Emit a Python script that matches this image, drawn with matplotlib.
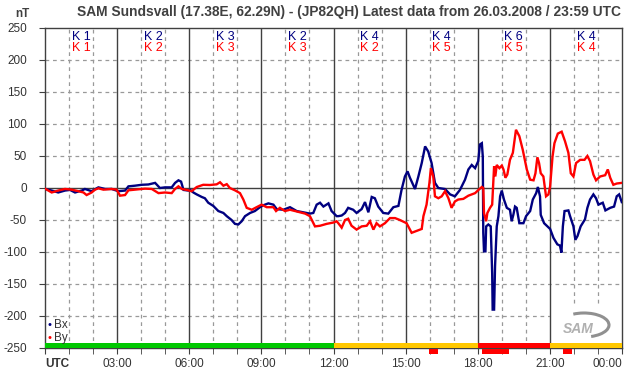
import matplotlib
matplotlib.use("Agg")
import matplotlib.pyplot as plt
from matplotlib.patches import Rectangle, Arc
import numpy as np

plt.rcParams['font.family'] = ['Liberation Sans', 'DejaVu Sans']

# ---- data (hours UTC, nT) ----
bx_hours = [0.00, 0.28, 0.55, 0.83, 1.04, 1.25, 1.53, 1.66, 1.94, 2.22, 2.50, 2.77, 3.05, 3.33, 3.47,
            3.74, 4.02, 4.30, 4.58, 4.78, 4.99, 5.27, 5.41, 5.55, 5.66, 5.76, 5.96, 6.03, 6.17, 6.31,
            6.52, 6.65, 6.79, 7.00, 7.21, 7.42, 7.56, 7.76, 7.90, 8.04, 8.18, 8.32, 8.53, 8.73, 8.94,
            9.08, 9.29, 9.50, 9.64, 9.91, 10.19, 10.47, 10.75, 11.02, 11.16, 11.30, 11.44, 11.58, 11.79,
            11.92, 12.13, 12.20, 12.34, 12.48, 12.61, 12.82, 12.96, 13.17, 13.31, 13.45, 13.59, 13.72,
            13.86, 14.07, 14.28, 14.49, 14.70, 14.83, 14.97, 15.08, 15.18, 15.39, 15.53, 15.67, 15.81,
            15.94, 16.08, 16.22, 16.36, 16.64, 16.85, 17.05, 17.26, 17.47, 17.61, 17.75, 17.89, 18.02,
            18.09, 18.17, 18.21, 18.23, 18.26, 18.32, 18.35, 18.44, 18.54, 18.60, 18.62, 18.68, 18.72,
            18.79, 18.86, 18.93, 19.00, 19.09, 19.21, 19.34, 19.41, 19.48, 19.55, 19.62, 19.73, 19.90,
            20.01, 20.18, 20.29, 20.43, 20.50, 20.59, 20.62, 20.76, 21.01, 21.15, 21.31, 21.42, 21.48,
            21.54, 21.61, 21.77, 21.84, 21.98, 22.06, 22.15, 22.28, 22.46, 22.56, 22.67, 22.81, 22.92,
            23.02, 23.20, 23.31, 23.51, 23.67, 23.78, 23.88, 23.99]
bx_values = [-1.5, -4, -7, -4, -3, -7, -4, -1.5, -5, 1, -1.5, -1.5, -5, -4, 2.6,
             3.6, 5, 5.5, 8, 0, 1, 1, 8, 12, 10, -3, -4, -2.6, -7, -10,
             -14, -16, -23, -28, -36, -39, -44, -50, -56, -57, -52, -44, -39, -36, -30,
             -27, -24, -26, -33, -34, -30, -36, -38, -40, -39, -26, -23, -29, -24,
             -36, -44, -44, -43, -39, -31, -34, -39, -33, -22, -38, -14, -16,
             -29, -39, -40, -30, -28, -3, 18, 26, 16, -1.6, 18, 39, 65,
             57, 39, 8, 0, -1.6, -10, -13, -3, 13, 29, 36, 31, 42,
             68, 70, 49, -70, -99, -99, -60, -57, -60, -133, -190, -190, -122,
             -60, -44, -13, -4, -18, -31, -34, -52, -42, -29, -31, -55, -55,
             -44, -36, -18, -8, 1.6, -13, -42, -55, -64, -78, -88, -90, -101,
             -60, -36, -35, -44, -60, -81, -75, -60, -49, -31, -18, -10, -16,
             -26, -23, -35, -31, -29, -13, -10, -22]

by_hours = [0.00, 0.28, 0.55, 0.83, 1.11, 1.39, 1.60, 1.73, 1.94, 2.08, 2.22, 2.43, 2.77, 2.98, 3.12,
            3.33, 3.47, 3.74, 4.16, 4.44, 4.72, 4.99, 5.27, 5.41, 5.55, 5.69, 5.96, 6.10, 6.31, 6.58,
            6.86, 7.14, 7.28, 7.42, 7.56, 7.69, 7.90, 8.11, 8.25, 8.39, 8.60, 8.80, 9.01, 9.22, 9.50,
            9.61, 9.77, 9.98, 10.19, 10.40, 10.61, 10.82, 11.02, 11.23, 11.44, 11.72, 11.99, 12.13,
            12.20, 12.34, 12.48, 12.61, 12.75, 12.96, 13.17, 13.38, 13.52, 13.66, 13.79, 13.93, 14.14,
            14.35, 14.56, 14.76, 15.04, 15.25, 15.46, 15.67, 15.74, 15.87, 15.99, 16.05, 16.15, 16.22,
            16.36, 16.50, 16.64, 16.78, 16.91, 17.05, 17.19, 17.40, 17.61, 17.89, 18.03, 18.17, 18.23,
            18.26, 18.35, 18.40, 18.51, 18.60, 18.65, 18.68, 18.73, 18.79, 18.90, 19.00, 19.07, 19.15,
            19.23, 19.34, 19.46, 19.59, 19.73, 19.87, 20.04, 20.18, 20.32, 20.40, 20.48, 20.55, 20.62,
            20.73, 20.84, 20.94, 21.01, 21.11, 21.19, 21.33, 21.49, 21.63, 21.77, 21.87, 21.98, 22.09,
            22.26, 22.44, 22.56, 22.67, 22.81, 22.92, 23.09, 23.30, 23.41, 23.51, 23.64, 23.78, 23.99]
by_values = [-1, -7, -4, -1.5, -2.6, -5, -7, -11, -7, -2.6, -0.5, -2.6, -1.5, -2.6, -12,
             -11, -3.6, -2.6, -1, -1.5, -8, -7, -8, -1.5, 2.6, -1.5, -3.6, -5, 1.5, 5,
             4.7, 5.7, 9, 3.6, 6, 0, -3.6, -8, -18, -31, -34, -30, -26, -30, -30,
             -36, -31, -36, -34, -36, -38, -40, -44, -60, -59, -56, -54, -52,
             -55, -62, -50, -48, -59, -65, -60, -59, -52, -65, -55, -60, -55,
             -47, -47, -50, -55, -70, -67, -64, -44, -26, 8, 31, 18, -13,
             -16, -13, -5, -16, -31, -21, -18, -17, -12, -8, -3, 1.6, 0,
             -39, -52, -39, -31, -26, 13, 34, 18, 36, 31, 35, 29, 16,
             21, 44, 55, 91, 81, 60, 29, 13, 12, 23, 48, 39, 23,
             18, -13, -10, 2.6, 49, 70, 85, 88, 73, 55, 23, 18, 39,
             44, 44, 50, 42, 21, 12, 18, 20, 29, 16, 5, 7, 8]

k_bx = [1, 2, 3, 2, 4, 4, 6, 4]
k_by = [1, 2, 3, 3, 2, 5, 5, 4]

status_spans = [(0, 12, '#00c800'), (12, 18, '#ffc800'), (18, 21, '#ff0000'), (21, 24, '#ffc800')]
alert_spans = [(15.98, 16.35), (18.19, 19.30), (21.55, 21.92)]

tick_labels = ['UTC', '03:00', '06:00', '09:00', '12:00', '15:00', '18:00', '21:00', '00:00']

title = "SAM Sundsvall (17.38E, 62.29N) - (JP82QH) Latest data from 26.03.2008 / 23:59 UTC"

BLUE = '#000080'
RED = '#ff0000'
DARK = '#404040'
TXT = '#333333'

W, H = 642, 376
fig = plt.figure(figsize=(W / 100, H / 100), dpi=100)
ax = fig.add_axes([45 / W, (H - 348) / H, (622 - 45) / W, (348 - 28) / H])
ax.set_xlim(0, 24)
ax.set_ylim(-250, 250)

# grid
for h in range(1, 24):
    if h % 3 == 0:
        ax.axvline(h, color=DARK, lw=1.0, zorder=1.5)
    else:
        ax.axvline(h, color='#999999', lw=0.9, ls=(0, (3, 3)), zorder=1)
for v in range(-200, 250, 50):
    if v == 0:
        ax.axhline(0, color=DARK, lw=1.0, zorder=1.5)
    else:
        ax.axhline(v, color='#999999', lw=0.9, ls=(0, (3, 3)), zorder=1)

# white box behind logo
ax.add_patch(Rectangle((21.05, -242), 2.95, 60, color='white', lw=0, zorder=1.2))

# status bar
for a, b, c in status_spans:
    ax.add_patch(Rectangle((a, -250), b - a, 8, color=c, lw=0, zorder=3))

# data
ax.plot(bx_hours, bx_values, color=BLUE, lw=1.7, zorder=4, solid_joinstyle='miter')
ax.plot(by_hours, by_values, color=RED, lw=1.7, zorder=5, solid_joinstyle='miter')

# K labels
for i, (kb, kr) in enumerate(zip(k_bx, k_by)):
    xc = 1.5 + 3 * i
    ax.text(xc, 236, f"K {kb}", color=BLUE, ha='center', va='center', fontsize=9, zorder=6)
    ax.text(xc, 218, f"K {kr}", color=RED, ha='center', va='center', fontsize=9, zorder=6)

# spines and ticks
for s in ax.spines.values():
    s.set_color(DARK)
    s.set_linewidth(1.0)
ax.set_yticks(range(-250, 251, 50))
ax.set_yticklabels([str(v) for v in range(-250, 251, 50)], color=TXT, fontsize=8.5)
ax.tick_params(axis='y', length=4, color=DARK, pad=9)
ax.set_xticks(range(0, 25, 3))
ax.set_xticklabels(tick_labels, color=TXT, fontsize=8.5)
ax.set_xticks(range(0, 25), minor=True)
ax.tick_params(axis='x', which='both', length=4, color=DARK, pad=3)
lbls = ax.get_xticklabels()
lbls[0].set_ha('left')
lbls[0].set_fontweight('bold')
lbls[-1].set_ha('right')

# alert marks below axis
for a, b in alert_spans:
    ax.add_patch(Rectangle((a, -259), b - a, 7, color=RED, lw=0, clip_on=False, zorder=3))

# legend
fig.text(50 / W, 1 - 325 / H, '\u2022', color=BLUE, fontsize=8, ha='center', va='center')
fig.text(54 / W, 1 - 325 / H, 'Bx', color=TXT, fontsize=8.5, ha='left', va='center')
fig.text(50 / W, 1 - 338 / H, '\u2022', color=RED, fontsize=8, ha='center', va='center')
fig.text(54 / W, 1 - 338 / H, 'By', color=TXT, fontsize=8.5, ha='left', va='center')

# logo
fig.text(578 / W, 1 - 329 / H, 'SAM', color='#b0b0b0', fontsize=10, style='italic',
         fontweight='bold', ha='center', va='center')
fig.patches.append(Arc((584 / W, 1 - 325 / H), 50 / W, 24 / H, theta1=-70, theta2=120,
                       color='#909090', lw=2.2, transform=fig.transFigure))

# title and unit
fig.text(349 / W, 1 - 12 / H, title, color=DARK, fontsize=9.9, fontweight='bold', ha='center', va='center')
fig.text(22 / W, 1 - 14 / H, 'nT', color=DARK, fontsize=8.5, fontweight='bold', ha='center', va='center')

fig.savefig('out.png', dpi=100)
